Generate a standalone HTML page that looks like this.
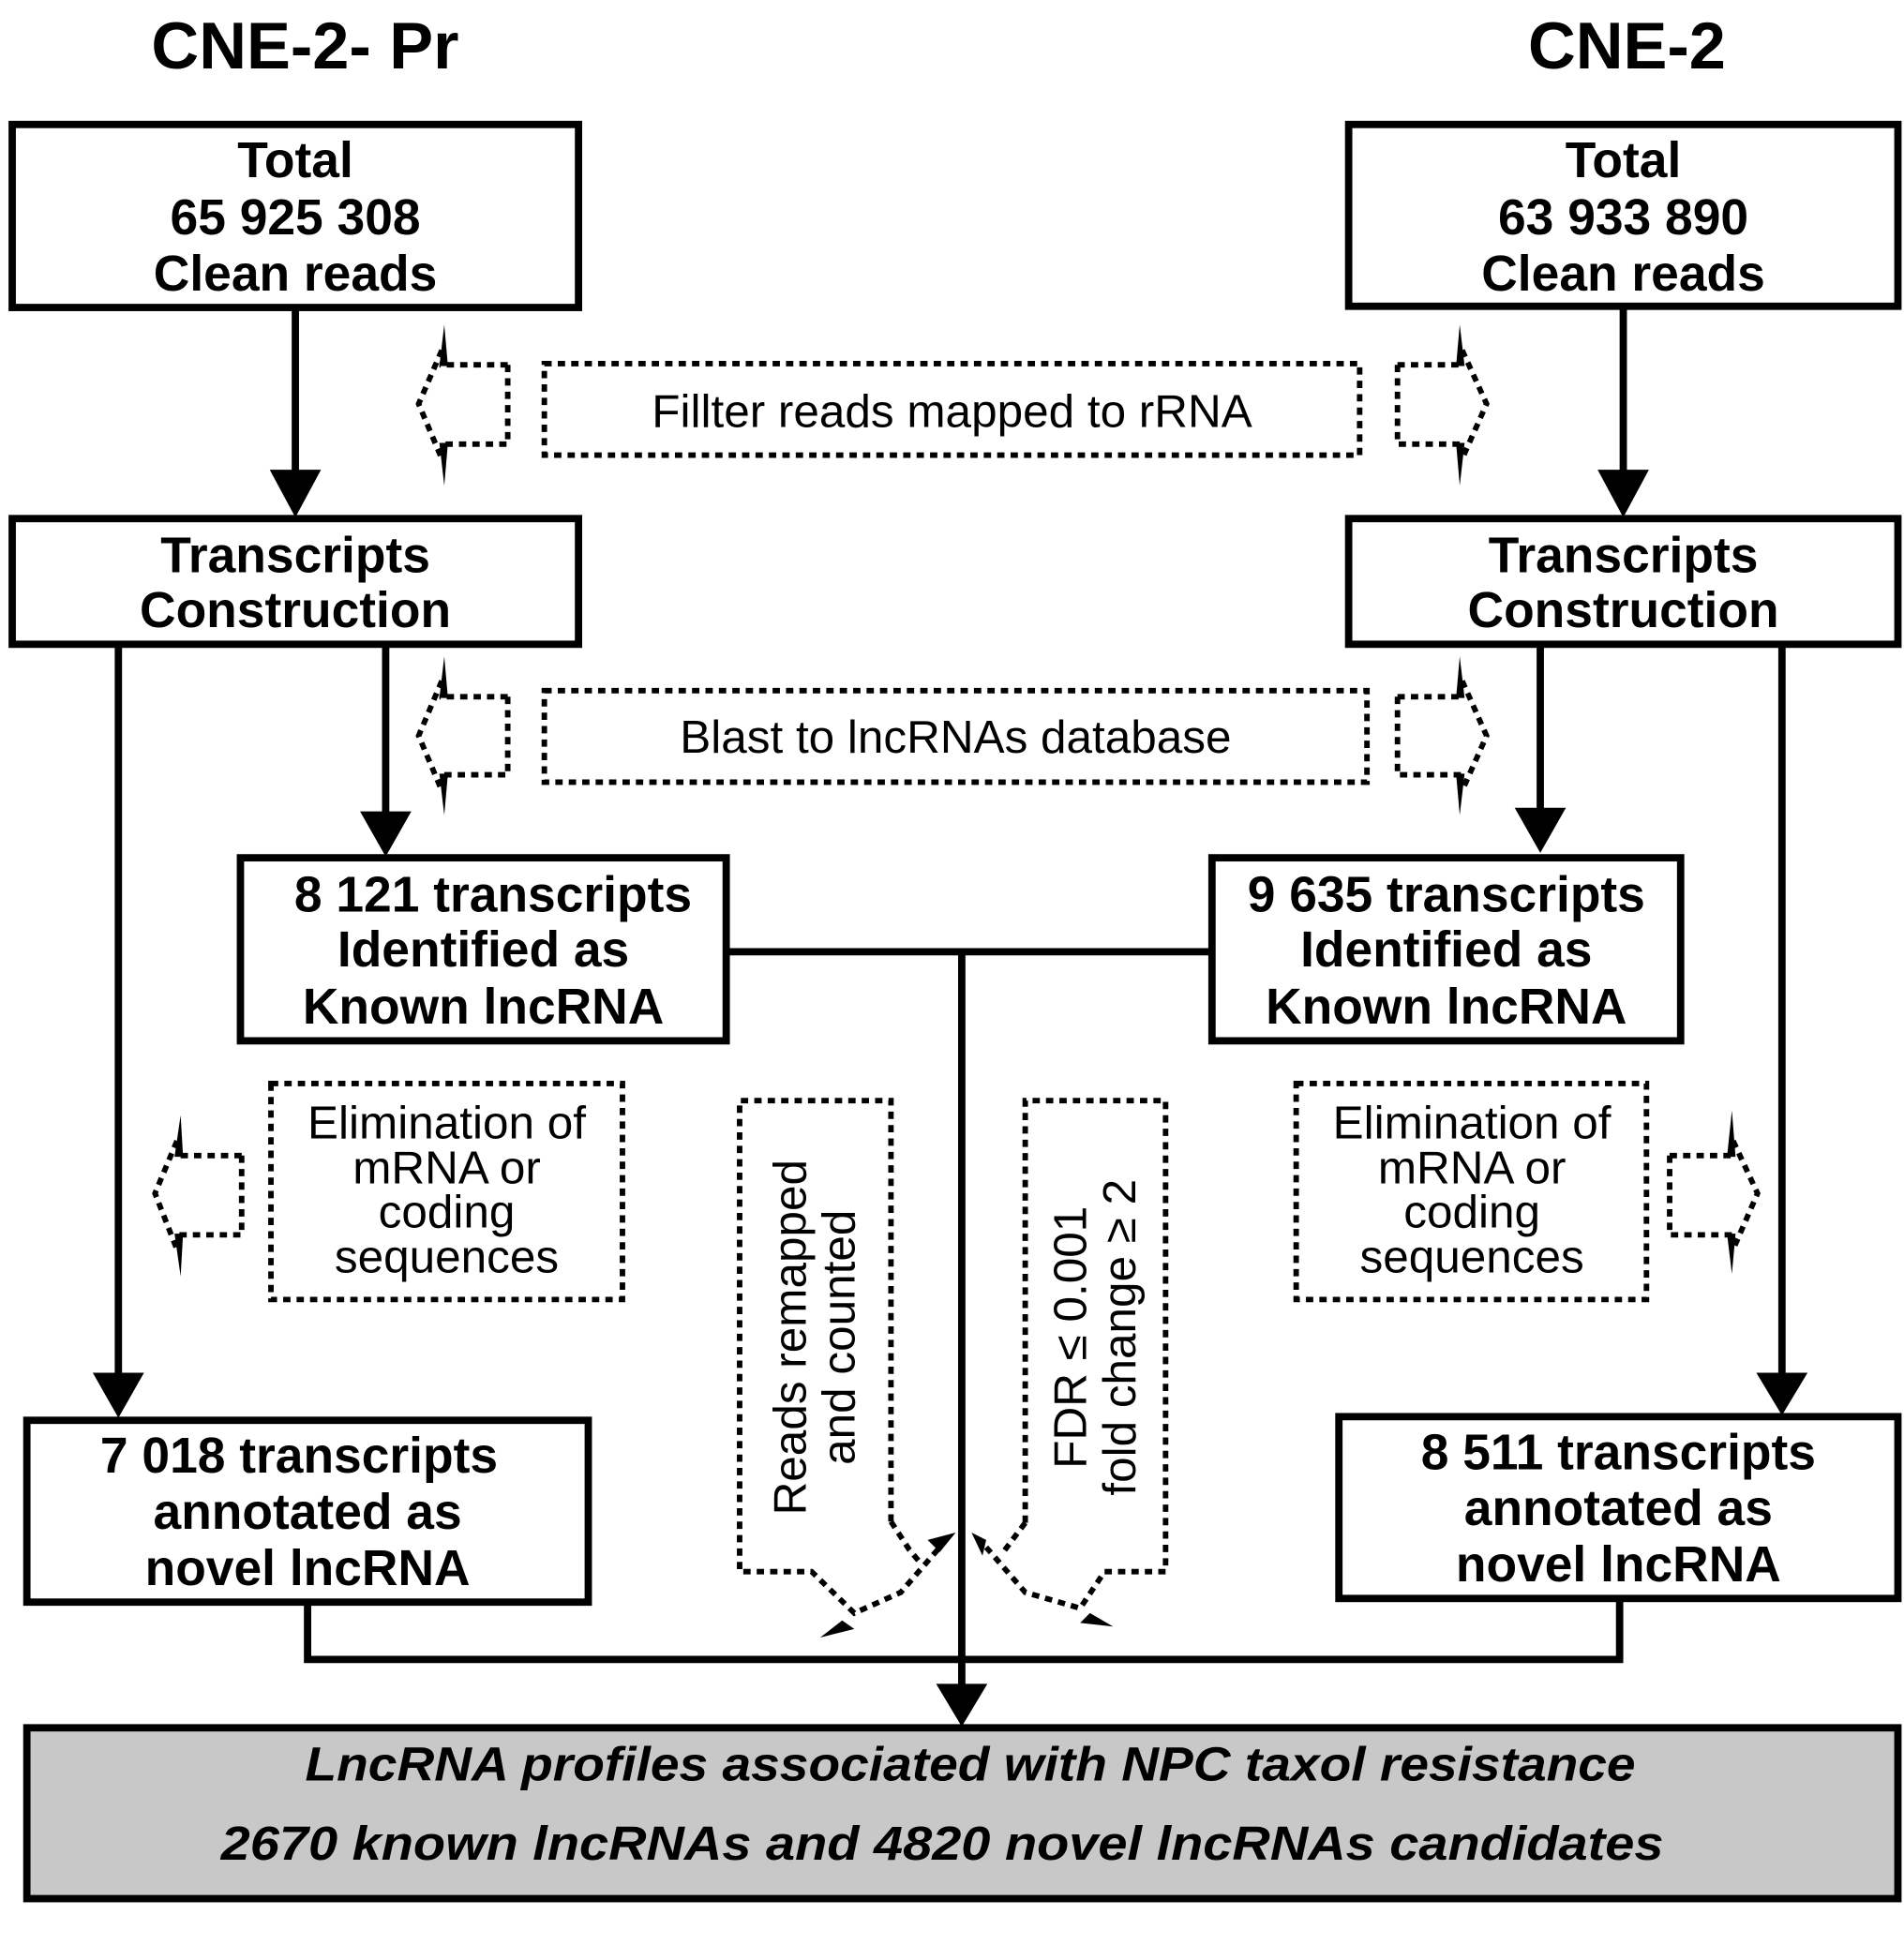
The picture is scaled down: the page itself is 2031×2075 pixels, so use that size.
<!DOCTYPE html>
<html><head><meta charset="utf-8"><style>
html,body{margin:0;padding:0;background:#fff;}
svg{display:block;}
.b{font-family:"Liberation Sans",Arial,sans-serif;font-weight:bold;font-size:41px;text-anchor:middle;fill:#000;}
.r{font-family:"Liberation Sans",Arial,sans-serif;font-size:38px;text-anchor:middle;fill:#000;}
.box{fill:#fff;stroke:#000;stroke-width:6;}
.dot{fill:none;stroke:#000;stroke-width:4.5;stroke-dasharray:6 5;}
.ln{stroke:#000;stroke-width:6;fill:none;}
</style></head><body>
<svg width="2031" height="2075" viewBox="0 0 1560 1594" preserveAspectRatio="none" xmlns="http://www.w3.org/2000/svg">
<rect width="1560" height="1594" fill="#fff"/>
<text class="b" x="250" y="56" style="font-size:54px">CNE-2- Pr</text>
<text class="b" x="1333" y="56" style="font-size:54px">CNE-2</text>

<!-- top boxes -->
<rect class="box" x="10" y="102" width="464" height="150"/>
<text class="b" x="242" y="145">Total</text>
<text class="b" x="242" y="192">65 925 308</text>
<text class="b" x="242" y="238">Clean reads</text>
<rect class="box" x="1105" y="102" width="450" height="149"/>
<text class="b" x="1330" y="145">Total</text>
<text class="b" x="1330" y="192">63 933 890</text>
<text class="b" x="1330" y="238">Clean reads</text>

<!-- arrows top -> transcripts -->
<path class="ln" d="M242 252 V390"/><polygon points="221,385 263,385 242,424"/>
<path class="ln" d="M1330 251 V390"/><polygon points="1309,385 1351,385 1330,424"/>

<!-- transcripts boxes -->
<rect class="box" x="10" y="425" width="464" height="103"/>
<text class="b" x="242" y="469">Transcripts</text>
<text class="b" x="242" y="514">Construction</text>
<rect class="box" x="1105" y="425" width="450" height="103"/>
<text class="b" x="1330" y="469">Transcripts</text>
<text class="b" x="1330" y="514">Construction</text>

<!-- filter dotted -->
<rect class="dot" x="446" y="298" width="668" height="75"/>
<text class="r" x="780" y="350">Fillter reads mapped to rRNA</text>
<rect class="dot" x="446" y="566" width="674" height="75"/>
<text class="r" x="783" y="617">Blast to lncRNAs database</text>

<!-- small dotted arrows: left ones -->
<g>
<path class="dot" d="M416 299 H360 M416 299 V364 H360 M362 287 L343 331 L362 376"/>
<polygon points="360,300 367,300 364,266"/><polygon points="360,363 367,363 364,398"/>
<path class="dot" d="M1145 299 H1200 M1145 299 V364 H1200 M1198 287 L1218 331 L1198 376"/>
<polygon points="1193,300 1200,300 1196,266"/><polygon points="1193,363 1200,363 1196,398"/>

<path class="dot" d="M416 571 H360 M416 571 V635 H360 M362 558 L343 603 L362 648"/>
<polygon points="360,572 367,572 364,538"/><polygon points="360,634 367,634 364,668"/>
<path class="dot" d="M1145 571 H1200 M1145 571 V635 H1200 M1198 558 L1218 603 L1198 648"/>
<polygon points="1193,572 1200,572 1196,538"/><polygon points="1193,634 1200,634 1196,668"/>

<path class="dot" d="M198 947 H143 M198 947 V1012 H143 M145 935 L127 978 L145 1024"/>
<polygon points="143,948 150,948 148,914"/><polygon points="143,1011 150,1011 148,1046"/>
<path class="dot" d="M1368 947 H1422 M1368 947 V1012 H1422 M1420 935 L1440 978 L1420 1024"/>
<polygon points="1415,948 1422,948 1419,910"/><polygon points="1415,1011 1422,1011 1419,1044"/>
</g>

<!-- lines from transcripts -->
<path class="ln" d="M97 528 V1128"/><polygon points="76,1125 118,1125 97,1162"/>
<path class="ln" d="M316 528 V668"/><polygon points="295,665 337,665 316,702"/>
<path class="ln" d="M1262 528 V665"/><polygon points="1241,662 1283,662 1262,699"/>
<path class="ln" d="M1460 528 V1128"/><polygon points="1439,1125 1481,1125 1460,1160"/>

<!-- known boxes -->
<rect class="box" x="197" y="703" width="398" height="150"/>
<text class="b" x="404" y="747">8 121 transcripts</text>
<text class="b" x="396" y="792">Identified as</text>
<text class="b" x="396" y="839">Known lncRNA</text>
<rect class="box" x="993" y="703" width="384" height="150"/>
<text class="b" x="1185" y="747">9 635 transcripts</text>
<text class="b" x="1185" y="792">Identified as</text>
<text class="b" x="1185" y="839">Known lncRNA</text>

<path class="ln" d="M595 780 H993 M788 780 V1382"/><polygon points="767,1380 809,1380 788,1415"/>

<!-- elimination dotted -->
<rect class="dot" x="222" y="888" width="288" height="177"/>
<text class="r" x="366" y="933">Elimination of</text>
<text class="r" x="366" y="970">mRNA or</text>
<text class="r" x="366" y="1006">coding</text>
<text class="r" x="366" y="1043">sequences</text>
<rect class="dot" x="1062" y="888" width="287" height="177"/>
<text class="r" x="1206" y="933">Elimination of</text>
<text class="r" x="1206" y="970">mRNA or</text>
<text class="r" x="1206" y="1006">coding</text>
<text class="r" x="1206" y="1043">sequences</text>

<!-- callouts -->
<path class="dot" d="M730 1247 V902 H606 V1288 H665 L700 1322 L738 1305 L770 1268 M730 1247 L745 1270 L755 1282"/>
<polygon points="760,1262 783,1256 770,1272"/><polygon points="690,1328 672,1342 700,1335"/>
<text class="r" transform="translate(660 1096) rotate(-90)">Reads remapped</text>
<text class="r" transform="translate(700 1096) rotate(-90)">and counted</text>

<path class="dot" d="M840 1248 V902 H955 V1288 H905 L885 1318 L840 1305 L808 1268 M840 1248 L822 1272"/>
<polygon points="808,1262 796,1256 805,1275"/><polygon points="893,1322 912,1333 885,1330"/>
<text class="r" transform="translate(890 1096) rotate(-90)">FDR  ≤  0.001</text>
<text class="r" transform="translate(930 1096) rotate(-90)">fold change  ≥  2</text>

<!-- novel boxes -->
<rect class="box" x="22" y="1164" width="460" height="149"/>
<text class="b" x="245" y="1207">7 018  transcripts</text>
<text class="b" x="252" y="1253">annotated as</text>
<text class="b" x="252" y="1299">novel lncRNA</text>
<rect class="box" x="1097" y="1161" width="458" height="149"/>
<text class="b" x="1326" y="1204">8 511 transcripts</text>
<text class="b" x="1326" y="1250">annotated as</text>
<text class="b" x="1326" y="1296">novel lncRNA</text>

<path class="ln" d="M252 1313 V1360 H1327 V1310"/>

<!-- bottom -->
<rect x="22" y="1416" width="1533" height="140" fill="#c8c8c8" stroke="#000" stroke-width="6"/>
<text class="b" x="795" y="1459" style="font-style:italic;font-size:39px" textLength="1090" lengthAdjust="spacingAndGlyphs">LncRNA profiles associated with NPC taxol resistance</text>
<text class="b" x="772" y="1524" style="font-style:italic;font-size:39px" textLength="1182" lengthAdjust="spacingAndGlyphs">2670  known lncRNAs and  4820  novel lncRNAs candidates</text>
</svg>
</body></html>
